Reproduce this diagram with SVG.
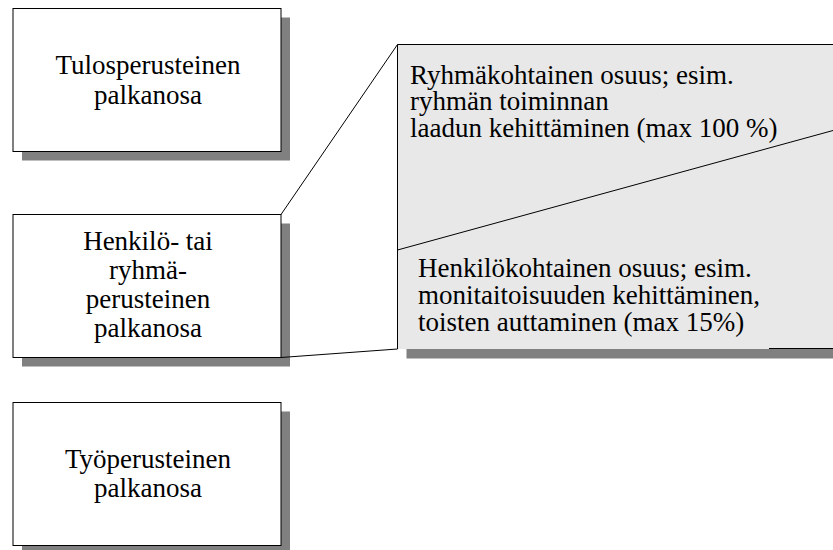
<svg xmlns="http://www.w3.org/2000/svg" width="833" height="550" viewBox="0 0 833 550">
  <style>
    .shadow { fill: #808080; }
    .box { fill: #ffffff; stroke: #000000; stroke-width: 1; }
    .panel { fill: #e8e8e8; }
    .edge { fill: none; stroke: #000000; stroke-width: 1; }
    .t { font-family: 'Liberation Serif', 'Times New Roman', Times, serif; font-size: 27px; fill: #000000; }
    .c { text-anchor: middle; }
  </style>

  <!-- Result-based pay component -->
  <g id="tulos">
    <rect class="shadow" x="22" y="17.5" width="268" height="143"/>
    <rect class="box" x="13" y="8.5" width="268" height="143"/>
    <text class="t c" x="148" y="74">Tulosperusteinen</text>
    <text class="t c" x="148" y="104">palkanosa</text>
  </g>

  <!-- Individual or group based pay component -->
  <g id="henkilo">
    <rect class="shadow" x="22" y="223.5" width="268" height="143"/>
    <rect class="box" x="13" y="214.5" width="268" height="143"/>
    <text class="t c" x="148" y="250">Henkilö- tai</text>
    <text class="t c" x="148" y="279">ryhmä-</text>
    <text class="t c" x="148" y="308">perusteinen</text>
    <text class="t c" x="148" y="337">palkanosa</text>
  </g>

  <!-- Work-based pay component -->
  <g id="tyo">
    <rect class="shadow" x="22" y="411.5" width="268" height="143"/>
    <rect class="box" x="13" y="402.5" width="268" height="143"/>
    <text class="t c" x="148" y="468">Työperusteinen</text>
    <text class="t c" x="148" y="497">palkanosa</text>
  </g>

  <!-- Breakdown panel: group share above, personal share below -->
  <g id="erittely">
    <rect class="shadow" x="406.5" y="349" width="440" height="9.5"/>
    <rect class="panel" x="397.5" y="44.5" width="450" height="304.5"/>
    <path class="edge" d="M397.5,349 V44.5 H833 M769,348.5 H833"/>
    <line class="edge" x1="397.5" y1="250" x2="833" y2="130.5"/>
    <g id="ryhma">
      <text class="t" x="410" y="83.5">Ryhmäkohtainen osuus; esim.</text>
      <text class="t" x="410" y="110">ryhmän toiminnan</text>
      <text class="t" x="410" y="136.5">laadun kehittäminen (max 100 %)</text>
    </g>
    <g id="henkilokohtainen">
      <text class="t" x="418" y="277">Henkilökohtainen osuus; esim.</text>
      <text class="t" x="418" y="304">monitaitoisuuden kehittäminen,</text>
      <text class="t" x="418" y="331">toisten auttaminen (max 15%)</text>
    </g>
  </g>

  <!-- Connectors from the middle box out to the panel -->
  <g id="connectors">
    <line class="edge" x1="281" y1="214.5" x2="397.5" y2="44.5"/>
    <line class="edge" x1="281" y1="357.5" x2="397.5" y2="349"/>
  </g>
</svg>
